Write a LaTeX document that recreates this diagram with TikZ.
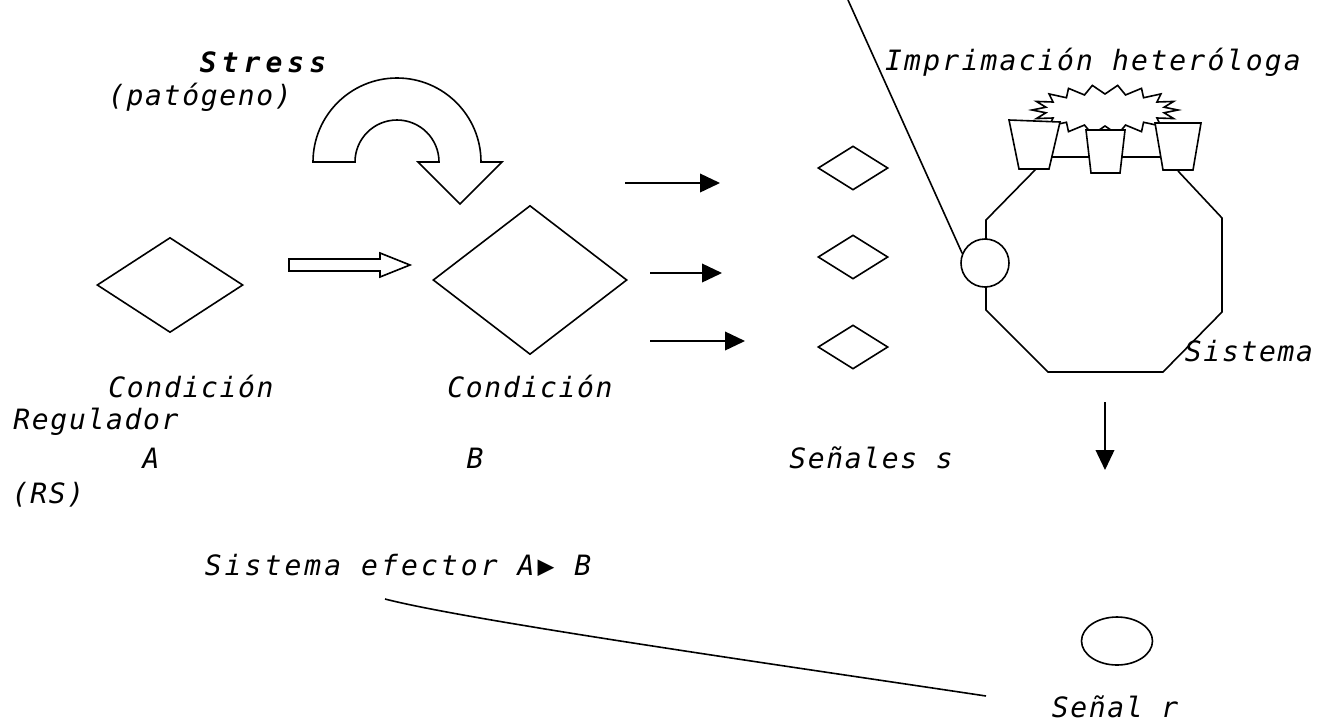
\documentclass[tikz,border=0pt]{standalone}
\usepackage{fontspec}
\setmainfont{DejaVu Sans Mono}[LetterSpace=6]
\usetikzlibrary{shapes.geometric, arrows.meta, positioning, calc}

\tikzset{
  rotulo/.style={font=\fontsize{21}{25}\selectfont\itshape, inner sep=0pt},
  rombo/.style={diamond, draw, fill=white, inner sep=0pt},
  flecha/.style={-{Triangle[length=15pt, width=14pt]}},
  vaso/.style={draw, fill=white},
}

\begin{document}
\begin{tikzpicture}[x=0.75pt, y=-0.75pt, line width=1.2pt]
\useasboundingbox (0,0) rectangle (1331,722);

% condiciones A y B
\node[rombo, minimum width=109.5pt, minimum height=71.25pt] (condA) at (170,285) {};
\node[rombo, minimum width=145.5pt, minimum height=111.75pt] (condB) at (530,280) {};

% flecha hueca A -> B
\draw (289,259) -- (380,259) -- (380,253) -- (410,265) -- (380,277) -- (380,271) -- (289,271) -- cycle;

% stress: flecha curva
\draw (313,162) arc (180:360:84) -- (502,162) -- (460,204) -- (418,162) -- (439,162)
      arc (360:180:42) -- cycle;
\node[rotulo, font=\fontsize{21}{25}\selectfont\bfseries\itshape\addfontfeature{LetterSpace=18}] (stress) at (263,62) {Stress};
\node[rotulo] (patogeno) at (200,97) {(patógeno)};

% senales s
\foreach \i/\yy in {1/168, 2/257, 3/347}
  \node[rombo, minimum width=52.5pt, minimum height=33pt] (sen\i) at (853,\yy) {};
\foreach \i/\xs/\xe/\yy in {1/625/720/183, 2/650/722/273, 3/650/745/341} {
  \coordinate (ini\i) at (\xs,\yy);
  \coordinate (fin\i) at (\xe,\yy);
  \draw[flecha] (ini\i) -- (fin\i);
}

% sistema (octogono)
\draw (1036,169) -- (986,220) -- (986,310) -- (1048,372) -- (1163,372) -- (1222,312) -- (1222,218) -- (1178,171);
\node[draw, fill=white, circle, minimum size=36pt, inner sep=0pt] (poro) at (985,263) {};
\coordinate (arriba) at (848,0);
\draw (poro.157) -- (arriba);

% imprimacion: estrella y vasos
\draw[fill=white] (1178,110) \foreach \k in {1,...,35} {
  -- ({1105+(73-13*mod(\k,2))*cos(10*\k)}, {110+(25-9*mod(\k,2))*sin(10*\k)}) } -- cycle;
\draw (1050,157) -- (1165,157);
\draw[vaso] (1009,120) -- (1060,122) -- (1049,169) -- (1019,169) -- cycle;
\draw[vaso] (1086,130) -- (1125,130) -- (1120,173) -- (1091,173) -- cycle;
\draw[vaso] (1155,123) -- (1201,123) -- (1193,170) -- (1163,170) -- cycle;

% salida: senal r
\coordinate (bajaIni) at (1105,402);
\coordinate (bajaFin) at (1105,470);
\draw[flecha] (bajaIni) -- (bajaFin);
\node[draw, ellipse, minimum width=53.25pt, minimum height=36pt, inner sep=0pt] (senalR) at (1117,641) {};

% rotulos
\node[rotulo, font=\fontsize{21}{25}\selectfont\itshape\addfontfeature{LetterSpace=8}] (impr) at (1093,62) {Imprimación heteróloga};
\node[rotulo] (sist) at (1249,351) {Sistema};
\node[rotulo] (condAtxt) at (191,386) {Condición};
\node[rotulo] (regul) at (96,422) {Regulador};
\node[rotulo] (letA) at (151,458) {A};
\node[rotulo] (rs) at (48,495) {(RS)};
\node[rotulo] (condBtxt) at (530,386) {Condición};
\node[rotulo] (letB) at (475,458) {B};
\node[rotulo] (senales) at (871,458) {Señales s};
\node[rotulo, font=\fontsize{21}{25}\selectfont\itshape\addfontfeature{LetterSpace=11}] (efector) at (398,565) {Sistema efector A▶ B};
\node[rotulo] (senalRtxt) at (1115,707) {Señal r};

% enlace efector -> senal r
\coordinate (enlIni) at (385,599);
\coordinate (enlFin) at (986,696);
\draw (enlIni) .. controls (470,621) and (800,668) .. (enlFin);
\end{tikzpicture}
\end{document}
